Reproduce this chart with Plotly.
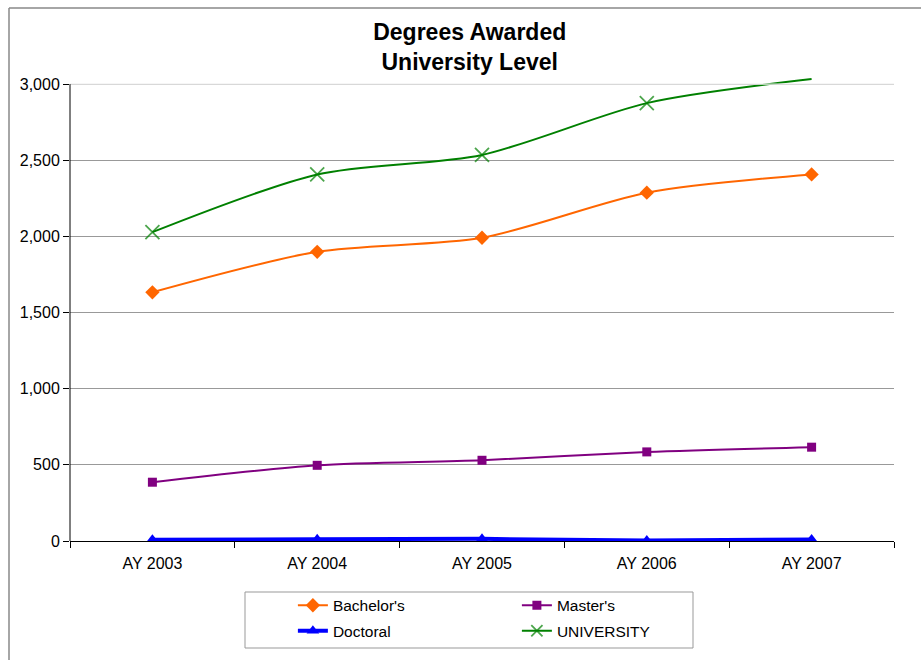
import plotly.graph_objects as go

years = ["AY 2003", "AY 2004", "AY 2005", "AY 2006", "AY 2007"]
bachelors = [1633, 1899, 1991, 2287, 2407]
masters = [386, 497, 530, 585, 616]
doctoral = [9, 11, 14, 3, 10]
university = [2028, 2407, 2535, 2875, 3033]

y_ticks = [0, 500, 1000, 1500, 2000, 2500, 3000]
y_tick_text = ["0", "500", "1,000", "1,500", "2,000", "2,500", "3,000"]

FONT = "Arial, Liberation Sans, sans-serif"

fig = go.Figure()
fig.add_trace(go.Scatter(
    x=years, y=bachelors, name="Bachelor's", mode="lines+markers",
    line=dict(color="#FF6600", width=2, shape="spline", smoothing=0.8),
    marker=dict(symbol="diamond", size=11, color="#FF6600"),
    legend="legend"))
fig.add_trace(go.Scatter(
    x=years, y=masters, name="Master's", mode="lines+markers",
    line=dict(color="#800080", width=2, shape="spline", smoothing=0.8),
    marker=dict(symbol="square", size=9, color="#800080"),
    legend="legend"))
fig.add_trace(go.Scatter(
    x=years, y=doctoral, name="Doctoral", mode="lines+markers",
    line=dict(color="#0000FF", width=4, shape="spline", smoothing=0.8),
    marker=dict(symbol="triangle-up", size=11, color="#0000FF"),
    legend="legend2"))
fig.add_trace(go.Scatter(
    x=years, y=university, name="UNIVERSITY", mode="lines+markers",
    line=dict(color="#008000", width=2, shape="spline", smoothing=0.8),
    marker=dict(symbol="x-thin", size=[14, 14, 14, 14, 0], color="#008000",
                line=dict(color="#008000", width=1.8)),
    legend="legend2"))

legend_common = dict(
    orientation="h", xanchor="left", yanchor="top",
    entrywidth=179, entrywidthmode="pixels",
    font=dict(family=FONT, size=15.5, color="black"),
    bgcolor="rgba(0,0,0,0)", borderwidth=0, tracegroupgap=0,
)

fig.update_layout(
    width=921, height=660,
    margin=dict(l=70, r=27, t=78, b=119, autoexpand=False),
    paper_bgcolor="white", plot_bgcolor="white",
    font=dict(family=FONT, size=16, color="black"),
    title=dict(text="<b>Degrees Awarded<br>University Level</b>",
               x=0.51, xref="container", xanchor="center",
               y=0.94, yref="container", yanchor="top",
               font=dict(family=FONT, size=23, color="black")),
    showlegend=True,
    legend=dict(x=0.2705, y=-0.103, **legend_common),
    legend2=dict(x=0.2705, y=-0.158, **legend_common),
    xaxis=dict(
        type="category", range=[-0.5, 4.5], automargin=False,
        showline=True, linecolor="black", linewidth=1,
        ticks="outside", tickson="boundaries", ticklen=6, tickcolor="black",
        ticklabelstandoff=8,
        showgrid=False, zeroline=False,
        tickfont=dict(family=FONT, size=16, color="black"),
    ),
    yaxis=dict(
        range=[0, 3040], tickvals=y_ticks, ticktext=y_tick_text, automargin=False,
        showline=False, ticks="outside", ticklen=6, tickcolor="black",
        showgrid=True, gridcolor="#999999", gridwidth=1.3,
        zeroline=False,
        tickfont=dict(family=FONT, size=16, color="black"),
    ),
    shapes=[
        # faint top gridline
        dict(type="line", xref="x domain", yref="y", x0=0, x1=1, y0=3000, y1=3000,
             line=dict(color="#eeeeee", width=1.3), layer="above"),
        # y axis line
        dict(type="line", xref="x domain", yref="y", x0=0, x1=0, y0=0, y1=3000,
             line=dict(color="black", width=1), layer="above"),
        # legend border
        dict(type="rect", xref="paper", yref="paper",
             x0=(245 - 70) / 824, x1=(693 - 70) / 824,
             y0=(541 - 648) / 463, y1=(541 - 592) / 463,
             line=dict(color="#999999", width=1), fillcolor="rgba(0,0,0,0)"),
        # chart frame (top and left)
        dict(type="line", xref="paper", yref="paper",
             x0=(9 - 70) / 824, x1=(921 - 70) / 824,
             y0=(541 - 8) / 463, y1=(541 - 8) / 463,
             line=dict(color="#888888", width=1.5)),
        dict(type="line", xref="paper", yref="paper",
             x0=(9 - 70) / 824, x1=(9 - 70) / 824,
             y0=(541 - 8) / 463, y1=(541 - 662) / 463,
             line=dict(color="#888888", width=1.5)),
    ],
)

fig.write_html("out.html", config={"displayModeBar": False},
               post_script="document.body.style.margin='0';")
